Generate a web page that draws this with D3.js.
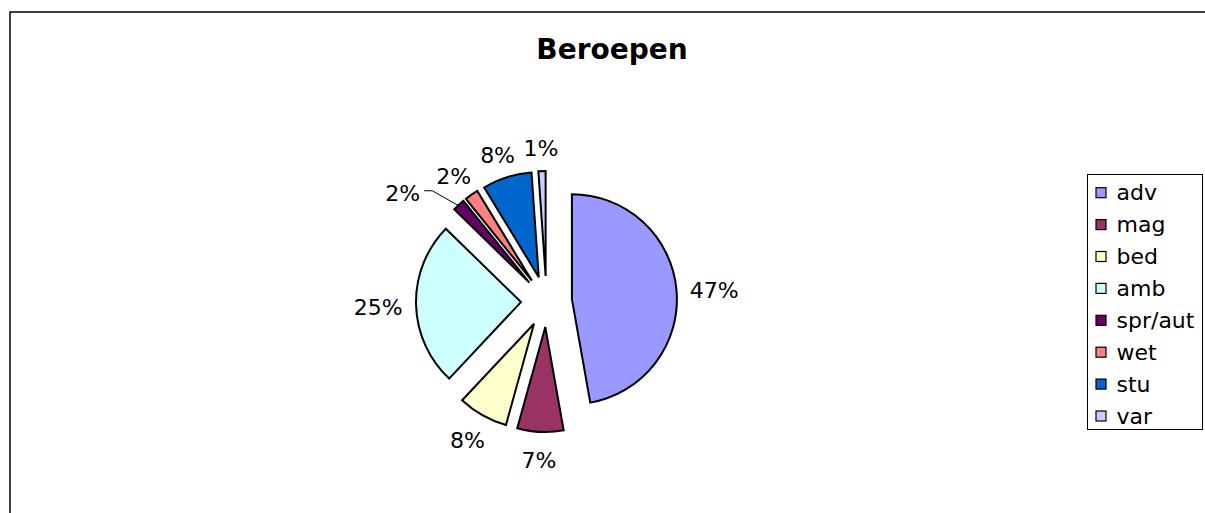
<!DOCTYPE html>
<html lang="nl">
<head>
<meta charset="UTF-8">
<title>Beroepen</title>
<script src="https://cdn.jsdelivr.net/npm/d3@7"></script>
<style>
  body { margin: 0; background: #fff; font-family: "DejaVu Sans", Verdana, sans-serif; overflow: hidden; }
  svg { display: block; overflow: hidden; }
</style>
</head>
<body>
<div id="chart"></div>
<script>
// data (percent of total)
var categories = ["adv", "mag", "bed", "amb", "spr/aut", "wet", "stu", "var"];
var values = [47.2, 7.1, 7.7, 25.3, 1.9, 2.1, 7.6, 1.1];
var labels = ["47%", "7%", "8%", "25%", "2%", "2%", "8%", "1%"];
var colors = ["#9999FF", "#993366", "#FFFFCC", "#CCFFFF", "#660066", "#FF8080", "#0066CC", "#CCCCFF"];

var width = 1205, height = 513;
var cx = 546.5, cy = 301.5, radius = 105, explode = 25.5;

var svg = d3.select("#chart").append("svg")
    .attr("width", width)
    .attr("height", height);

// chart area border (runs off the right and bottom)
svg.append("rect")
    .attr("x", 10).attr("y", 12)
    .attr("width", 1400).attr("height", 700)
    .attr("fill", "#fff")
    .attr("stroke", "#000")
    .attr("stroke-width", 1.5);

svg.append("text")
    .attr("x", 612).attr("y", 59)
    .attr("text-anchor", "middle")
    .style("font-size", "28px")
    .style("font-weight", "bold")
    .text("Beroepen");

var data = categories.map(function (c, i) {
    return { name: c, value: values[i], label: labels[i], color: colors[i] };
});

var pie = d3.pie().sort(null).value(function (d) { return d.value; });
var arcs = pie(data);
var arc = d3.arc().innerRadius(0).outerRadius(radius);

function mid(d) { return (d.startAngle + d.endAngle) / 2; }

var g = svg.append("g").attr("transform", "translate(" + cx + "," + cy + ")");

g.selectAll("path.slice")
    .data(arcs)
    .enter().append("path")
    .attr("class", "slice")
    .attr("transform", function (d) {
        var a = mid(d);
        return "translate(" + (Math.sin(a) * explode) + "," + (-Math.cos(a) * explode) + ")";
    })
    .attr("d", arc)
    .attr("fill", function (d) { return d.data.color; })
    .attr("stroke", "#000")
    .attr("stroke-width", 2)
    .attr("stroke-linejoin", "miter");

// data labels, placed just outside each slice
var labelR = 144;
var txt = g.selectAll("text.lbl")
    .data(arcs)
    .enter().append("text")
    .attr("class", "lbl")
    .style("font-size", "22px")
    .attr("text-anchor", "middle")
    .attr("dominant-baseline", "central")
    .text(function (d) { return d.data.label; });

var boxes = [];
txt.each(function (d, i) {
    var bb = this.getBBox();
    var a = mid(d);
    var x = Math.sin(a) * labelR + Math.sin(a) * bb.width / 2;
    var y = -Math.cos(a) * labelR - Math.cos(a) * bb.height / 2 + 3;
    boxes[i] = { x: x, y: y, w: bb.width, h: bb.height * 0.8, moved: false };
});

// resolve overlaps, last slices keep their place
for (var i = boxes.length - 1; i >= 0; i--) {
    for (var j = i + 1; j < boxes.length; j++) {
        var a = boxes[i], b = boxes[j];
        if (Math.abs(a.x - b.x) < (a.w + b.w) / 2 && Math.abs(a.y - b.y) < (a.h + b.h) / 2) {
            a.x = b.x - b.w / 2 - 16 - a.w / 2;
            a.y += 5;
            a.moved = true;
        }
    }
}

txt.attr("x", function (d, i) { return boxes[i].x; })
   .attr("y", function (d, i) { return boxes[i].y; });

g.selectAll("polyline.leader")
    .data(arcs.filter(function (d, i) { return boxes[i].moved; }))
    .enter().append("polyline")
    .attr("class", "leader")
    .attr("fill", "none")
    .attr("stroke", "#000")
    .attr("stroke-width", 1)
    .attr("points", function (d) {
        var b = boxes[d.index];
        var a = mid(d);
        var r = radius + explode - 2;
        var x0 = b.x + b.w / 2 + 4;
        return [[x0, b.y - 3], [x0 + 8, b.y - 3], [Math.sin(a) * r, -Math.cos(a) * r]].join(" ");
    });

// legend
var lx = 1087.5, ly = 174.5, step = 31.9;
svg.append("rect")
    .attr("x", lx).attr("y", ly)
    .attr("width", 115).attr("height", 255)
    .attr("fill", "#fff")
    .attr("stroke", "#000")
    .attr("stroke-width", 1);

var item = svg.selectAll("g.item")
    .data(data)
    .enter().append("g")
    .attr("class", "item")
    .attr("transform", function (d, i) { return "translate(" + lx + "," + (192.7 + i * step) + ")"; });

item.append("rect")
    .attr("x", 8.5).attr("y", -5)
    .attr("width", 10).attr("height", 10)
    .attr("fill", function (d) { return d.color; })
    .attr("stroke", "#000")
    .attr("stroke-width", 1.2);

item.append("text")
    .attr("x", 29)
    .attr("dominant-baseline", "central")
    .style("font-size", "22px")
    .text(function (d) { return d.name; });
</script>
</body>
</html>
